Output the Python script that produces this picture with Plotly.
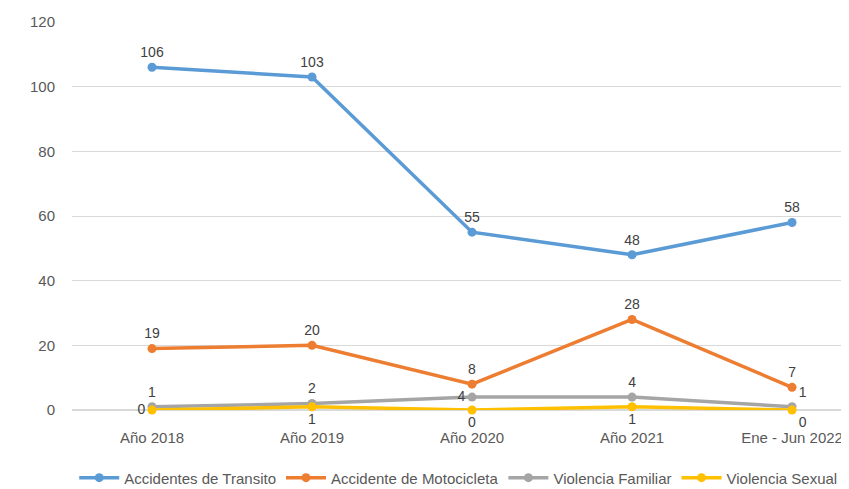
import plotly.graph_objects as go

# categories and series
categorias = ["Año 2018", "Año 2019", "Año 2020", "Año 2021", "Ene - Jun 2022"]
transito = [106, 103, 55, 48, 58]
motocicleta = [19, 20, 8, 28, 7]
familiar = [1, 2, 4, 4, 1]
sexual = [0, 1, 0, 1, 0]

series = [
    ("Accidentes de Transito", transito, "#5B9BD5", ["top center"] * 5),
    ("Accidente de Motocicleta", motocicleta, "#ED7D31", ["top center"] * 5),
    ("Violencia Familiar", familiar, "#A5A5A5",
     ["top center", "top center", "middle left", "top center", "top right"]),
    ("Violencia Sexual", sexual, "#FFC000",
     ["middle left", "bottom center", "bottom center", "bottom center", "bottom right"]),
]

fig = go.Figure()
for name, vals, color, pos in series:
    fig.add_trace(go.Scatter(
        x=categorias, y=vals, name=name, mode="lines+markers+text",
        line=dict(color=color, width=3.5),
        marker=dict(color=color, size=9),
        text=[str(v) for v in vals], textposition=pos,
        textfont=dict(color="#404040", size=14),
        cliponaxis=False,
    ))

# page has an 8px body offset, so margins are shifted to compensate
fig.update_layout(
    width=849, height=489,
    margin=dict(l=64, r=0, t=14, b=87),
    paper_bgcolor="white", plot_bgcolor="white",
    font=dict(family="Liberation Sans, sans-serif", size=15, color="#595959"),
    xaxis=dict(range=[-0.5, 4.406], showgrid=False, showline=False, ticks="",
               ticklabelstandoff=17, automargin=False, tickfont=dict(size=15)),
    yaxis=dict(range=[0, 120], dtick=20, gridcolor="#D9D9D9", gridwidth=1,
               zeroline=True, zerolinecolor="#D9D9D9", ticks="", ticklabelstandoff=16,
               automargin=False, tickfont=dict(size=15)),
    legend=dict(orientation="h", x=0.492, xanchor="center", y=-0.175, yanchor="middle",
                font=dict(size=15, color="#595959"), itemwidth=40, tracegroupgap=0),
    showlegend=True,
)

fig.write_html("out.html")
